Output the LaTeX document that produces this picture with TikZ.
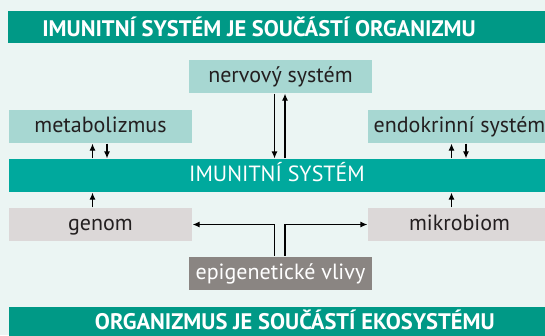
\documentclass[tikz,border=0pt]{standalone}
\usepackage{fontspec}
\setmainfont{PT Sans}
\usetikzlibrary{arrows.meta}
\definecolor{pozadi}{HTML}{EBF5F3}
\definecolor{tmava}{HTML}{009986}
\definecolor{imun}{HTML}{00A99D}
\definecolor{svetla}{HTML}{A7D7D2}
\definecolor{seda}{HTML}{DCD8D8}
\definecolor{tmseda}{HTML}{8A8582}
\definecolor{pismo}{HTML}{231F20}
\begin{document}
\begin{tikzpicture}[x=1pt,y=-1pt,>={Latex[length=7pt,width=6pt]},line width=1.2pt,
    box/.style={minimum width=183pt,minimum height=33pt,inner sep=0pt,text height=16pt,text depth=3.6pt,
        font=\fontsize{22}{26}\selectfont,text=pismo},
    pruh/.style={minimum height=32pt,inner sep=0pt},
    nadpis/.style={anchor=base,inner sep=0pt,text depth=0pt,text=white,font=\fontsize{22.5}{26}\selectfont\bfseries}]
\fill[pozadi] (0,0) rectangle (545,335);
\useasboundingbox (0,0) rectangle (545,335);
\node[pruh,fill=tmava,minimum width=537pt] (org) at (276.5,27) {};
\node[nadpis] (orgtxt) at (259,36) {IMUNITNÍ SYSTÉM JE SOUČÁSTÍ ORGANIZMU};
\node[box,fill=svetla] (nerv) at (280.5,76.5) {nervový systém};
\node[box,fill=svetla] (metab) at (100.5,126.5) {metabolizmus};
\node[box,fill=svetla] (endo) at (459.5,126.5) {endokrinní systém};
\node[box,fill=imun,minimum width=536pt,text=white] (imu) at (277,175.5) {IMUNITNÍ SYSTÉM};
\node[box,fill=seda] (genom) at (100.5,224.5) {genom};
\node[box,fill=seda] (mikro) at (459.5,224.5) {mikrobiom};
\node[box,fill=tmseda,text=white] (epi) at (280.5,273) {epigenetické vlivy};
\node[pruh,fill=tmava,minimum width=536pt] (eko) at (277,323) {};
\node[nadpis] (ekotxt) at (294.8,329.5) {ORGANIZMUS JE SOUČÁSTÍ EKOSYSTÉMU};
\draw[->] ([xshift=-6pt]nerv.south) -- ([xshift=-6pt]nerv.south |- imu.north);
\draw[->] ([xshift=4.5pt]nerv.south |- imu.north) -- ([xshift=4.5pt]nerv.south);
\draw[->] ([xshift=-8pt]metab.south |- imu.north) -- ([xshift=-8pt]metab.south);
\draw[->] ([xshift=6.5pt]metab.south) -- ([xshift=6.5pt]metab.south |- imu.north);
\draw[->] ([xshift=-8pt]endo.south |- imu.north) -- ([xshift=-8pt]endo.south);
\draw[->] ([xshift=6.5pt]endo.south) -- ([xshift=6.5pt]endo.south |- imu.north);
\draw[->] ([xshift=-8pt]genom.north) -- ([xshift=-8pt]genom.north |- imu.south);
\draw[->] ([xshift=-8pt]mikro.north) -- ([xshift=-8pt]mikro.north |- imu.south);
\draw[->] ([xshift=-6pt]epi.north) |- (genom.east);
\draw[->] ([xshift=4.5pt]epi.north) |- (mikro.west);
\end{tikzpicture}
\end{document}
